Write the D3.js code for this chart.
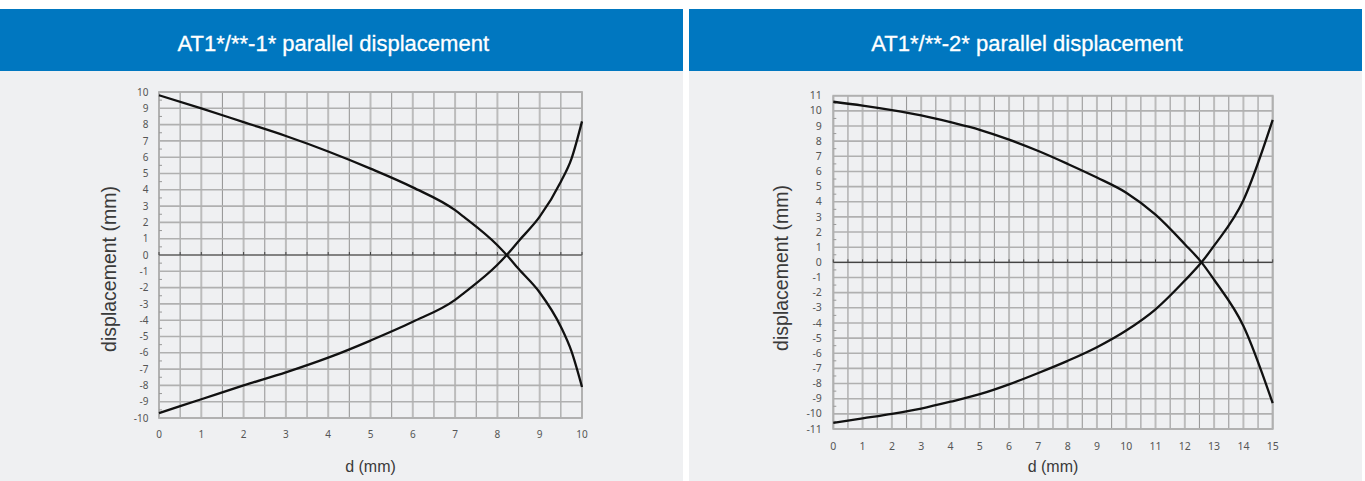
<!DOCTYPE html>
<html><head><meta charset="utf-8">
<script src="https://cdn.jsdelivr.net/npm/d3@7/dist/d3.min.js"></script>
<style>
html,body{margin:0;padding:0;background:#fff;}
svg{display:block;}
</style></head>
<body>
<svg id="c" width="1365" height="481"></svg>
<script>
// ---- data ----
const titles = ["AT1*/**-1* parallel displacement", "AT1*/**-2* parallel displacement"];
const yAxisTitle = "displacement (mm)";
const xAxisTitle = "d (mm)";

const leftD     = [0, 1, 2, 3, 4, 5, 6, 7, 7.2, 8, 8.22, 8.5, 9, 9.5, 9.75, 10];
const leftUpper = [9.8, 9.0, 8.15, 7.3, 6.35, 5.3, 4.15, 2.75, 2.35, 0.6, 0, -0.85, -2.3, -4.4, -5.9, -8.1];
const leftLower = [-9.7, -8.85, -8.0, -7.2, -6.3, -5.25, -4.1, -2.75, -2.35, -0.6, 0, 0.85, 2.35, 4.5, 5.9, 8.2];
const leftXTicks = [0,1,2,3,4,5,6,7,8,9,10];
const leftYTicks = [10,9,8,7,6,5,4,3,2,1,0,-1,-2,-3,-4,-5,-6,-7,-8,-9,-10];

const rightD     = [0, 1, 2, 3, 4, 5, 6, 7, 8, 9, 10, 11, 12, 12.57, 13, 14, 15];
const rightUpper = [10.6, 10.35, 10.05, 9.7, 9.25, 8.75, 8.1, 7.35, 6.5, 5.6, 4.6, 3.15, 1.2, 0, -1.15, -4.2, -9.3];
const rightLower = [-10.6, -10.3, -10.0, -9.65, -9.2, -8.7, -8.05, -7.3, -6.5, -5.6, -4.5, -3.1, -1.2, 0, 1.1, 4.1, 9.4];
const rightXTicks = [0,1,2,3,4,5,6,7,8,9,10,11,12,13,14,15];
const rightYTicks = [11,10,9,8,7,6,5,4,3,2,1,0,-1,-2,-3,-4,-5,-6,-7,-8,-9,-10,-11];

// ---- drawing ----
const svg = d3.select("#c");
const BLUE = "#0077c0", BODY = "#eff0f2";

function panel(cfg){
  const g = svg.append("g");
  g.append("rect").attr("x",cfg.px).attr("y",71).attr("width",cfg.pw).attr("height",410).attr("fill",BODY);
  g.append("rect").attr("x",cfg.px).attr("y",9).attr("width",cfg.pw).attr("height",62).attr("fill",BLUE);
  g.append("text").attr("x",cfg.tcx).attr("y",51).attr("text-anchor","middle")
    .attr("font-family","Liberation Sans, Arial, sans-serif").attr("font-size",22).attr("fill","#fff")
    .attr("stroke","#fff").attr("stroke-width",0.3)
    .text(cfg.title);

  const x = d3.scaleLinear().domain(cfg.xd).range(cfg.xr);
  const y = d3.scaleLinear().domain(cfg.yd).range(cfg.yr);
  const [x0,x1] = cfg.xr, [y0,y1] = cfg.yr; // y0 bottom, y1 top

  // vertical grid every 0.5
  const vx = d3.range(cfg.xd[0], cfg.xd[1]+0.001, 0.5);
  g.selectAll(null).data(vx).enter().append("line")
    .attr("x1",d=>x(d)).attr("x2",d=>x(d)).attr("y1",y0).attr("y2",y1)
    .attr("stroke",d=>Number.isInteger(d)?"#bcbcbc":"#9a9a9a")
    .attr("stroke-width",d=>Number.isInteger(d)?2:1.1);
  // horizontal grid every 1
  const hy = d3.range(cfg.yd[0], cfg.yd[1]+0.001, 1);
  g.selectAll(null).data(hy).enter().append("line")
    .attr("x1",x0).attr("x2",x1).attr("y1",d=>y(d)).attr("y2",d=>y(d))
    .attr("stroke","#b0b0b0").attr("stroke-width",1.6);
  // border
  g.append("rect").attr("x",x0).attr("y",y1).attr("width",x1-x0).attr("height",y0-y1)
    .attr("fill","none").attr("stroke","#b0b0b0").attr("stroke-width",1.8);
  // left axis minor ticks
  const my = d3.range(cfg.yd[0]+0.5, cfg.yd[1], 1);
  g.selectAll(null).data(my).enter().append("line")
    .attr("x1",x0).attr("x2",x0+3).attr("y1",d=>y(d)).attr("y2",d=>y(d))
    .attr("stroke","#999").attr("stroke-width",1);
  // zero line with ticks
  g.append("line").attr("x1",x0).attr("x2",x1).attr("y1",y(0)).attr("y2",y(0))
    .attr("stroke","#444").attr("stroke-width",1.2);
  g.selectAll(null).data(vx).enter().append("line")
    .attr("x1",d=>x(d)).attr("x2",d=>x(d)).attr("y1",y(0)).attr("y2",y(0)-3)
    .attr("stroke","#444").attr("stroke-width",1);

  // tick labels
  const tf = "Noto Sans, DejaVu Sans, sans-serif";
  g.selectAll(null).data(cfg.yt).enter().append("text")
    .attr("x",x0-cfg.ylabOff).attr("y",d=>y(d)+3.6).attr("text-anchor","end")
    .attr("font-family",tf).attr("font-size",cfg.tfs).attr("fill","#555").text(d=>d);
  g.selectAll(null).data(cfg.xt).enter().append("text")
    .attr("x",d=>x(d)).attr("y",y0+cfg.xlabOff).attr("text-anchor","middle")
    .attr("font-family",tf).attr("font-size",cfg.tfs).attr("fill","#555").text(d=>d);

  // axis titles
  const af = "Liberation Sans, Arial, sans-serif";
  g.append("text").attr("transform",`translate(${cfg.ytx},${cfg.yty}) rotate(-90)`)
    .attr("text-anchor","middle").attr("font-family",af).attr("font-size",19.5).attr("fill","#3a3a3a")
    .text(yAxisTitle);
  g.append("text").attr("x",(x0+x1)/2).attr("y",cfg.xty).attr("text-anchor","middle")
    .attr("font-family",af).attr("font-size",16).attr("fill","#3a3a3a").text(xAxisTitle);

  // curves
  const line = d3.line().x(d=>x(d[0])).y(d=>y(d[1])).curve(d3.curveMonotoneX);
  [cfg.up, cfg.lo].forEach(vals=>{
    g.append("path").datum(cfg.d.map((d,i)=>[d, vals[i]]))
      .attr("d",line).attr("fill","none").attr("stroke","#111").attr("stroke-width",2.3)
      .attr("stroke-linejoin","round");
  });
}

panel({px:0, pw:683, tcx:333.3, title:titles[0], xd:[0,10], yd:[-10,10], xr:[159,582], yr:[418,92],
  xt:leftXTicks, yt:leftYTicks, d:leftD, up:leftUpper, lo:leftLower,
  ylabOff:10.5, xlabOff:20, tfs:10, ytx:116, yty:269, xty:472});
panel({px:689, pw:673, tcx:1027, title:titles[1], xd:[0,15], yd:[-11,11], xr:[833.3,1272.7], yr:[429,95.7],
  xt:rightXTicks, yt:rightYTicks, d:rightD, up:rightUpper, lo:rightLower,
  ylabOff:11.5, xlabOff:21, tfs:10.5, ytx:788, yty:268, xty:472});
</script>
</body></html>
